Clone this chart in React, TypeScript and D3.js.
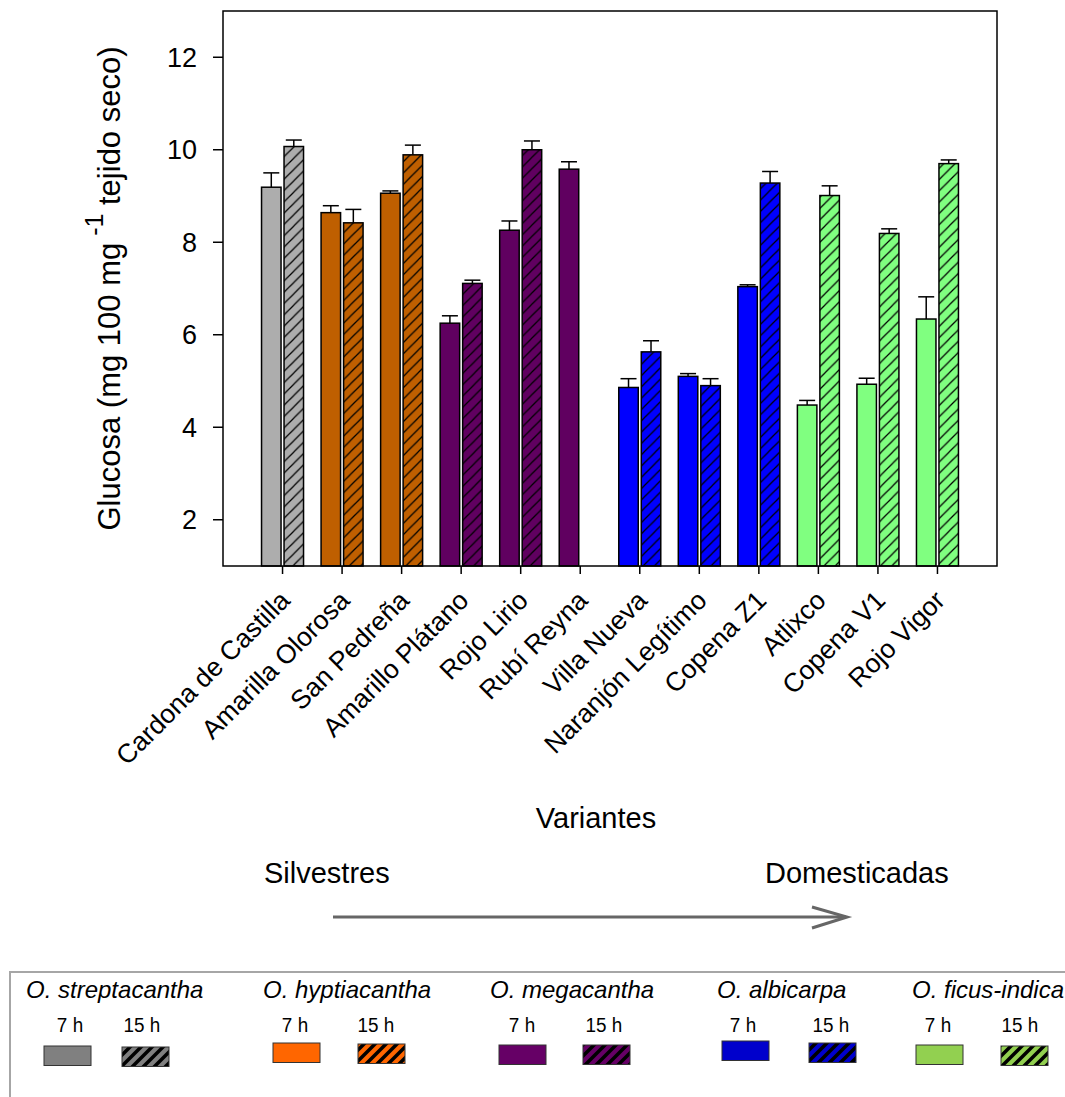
import React from "react";
import * as d3 from "d3";

const categories = [
  "Cardona de Castilla",
  "Amarilla Olorosa",
  "San Pedreña",
  "Amarillo Plátano",
  "Rojo Lirio",
  "Rubí Reyna",
  "Villa Nueva",
  "Naranjón Legítimo",
  "Copena Z1",
  "Atlixco",
  "Copena V1",
  "Rojo Vigor",
];
const speciesOfCategory = [0, 1, 1, 2, 2, 2, 3, 3, 3, 4, 4, 4];
const values7h = [9.19, 8.64, 9.06, 6.25, 8.26, 9.58, 4.86, 5.1, 7.04, 4.48, 4.93, 6.34];
const errors7h = [0.31, 0.15, 0.05, 0.16, 0.2, 0.16, 0.19, 0.06, 0.04, 0.1, 0.13, 0.48];
const values15h: (number | null)[] = [10.07, 8.42, 9.89, 7.11, 10.0, null, 5.63, 4.9, 9.28, 9.01, 8.19, 9.7];
const errors15h: (number | null)[] = [0.14, 0.29, 0.21, 0.07, 0.19, null, 0.24, 0.15, 0.25, 0.21, 0.1, 0.08];
const yTicks = [2, 4, 6, 8, 10, 12];

const speciesNames = [
  "O. streptacantha",
  "O. hyptiacantha",
  "O. megacantha",
  "O. albicarpa",
  "O. ficus-indica",
];
const barColors = ["#adadad", "#bf5f00", "#600060", "#0000ff", "#80ff80"];
const legendColors = ["#808080", "#ff6600", "#660066", "#0000cc", "#92d050"];

// legend layout
const legendTitleX = [26, 263, 490, 717, 912];
const legendSwatch7X = [44, 273, 499, 722, 916];
const legendSwatch7Y = [1046, 1043, 1045, 1041, 1045];
const legendSwatch15X = [122, 358, 583, 809, 1001];
const legendSwatch15Y = [1047, 1044, 1045, 1043, 1046];
const legendLabel7X = [70, 295, 522, 743, 938];
const legendLabel15X = [142, 376, 604, 831, 1020];

const FONT = "'Liberation Sans', Arial, sans-serif";

export default function App() {
  const left = 223;
  const right = 997;
  const top = 11;
  const bottom = 566;

  const x = d3
    .scaleLinear()
    .domain([-1, categories.length])
    .range([left, right]);
  const y = d3.scaleLinear().domain([1, 13]).range([bottom, top]);

  const barW = 19.5;
  const gap = 1.5;
  const capW = 16;

  return (
    <div style={{ position: "absolute", left: 0, top: 0 }}>
      <svg width={1065} height={1097} style={{ display: "block" }} fontFamily={FONT}>
        <defs>
          {barColors.map((c, i) => (
            <pattern
              key={"p" + i}
              id={"hatch" + i}
              patternUnits="userSpaceOnUse"
              width={11.3}
              height={11.3}
            >
              <rect width={11.3} height={11.3} fill={c} />
              <line x1={0} y1={11.3} x2={11.3} y2={0} stroke="#000" strokeWidth={1.2} />
              <line x1={-2} y1={2} x2={2} y2={-2} stroke="#000" strokeWidth={1.2} />
              <line x1={9.3} y1={13.3} x2={13.3} y2={9.3} stroke="#000" strokeWidth={1.2} />
            </pattern>
          ))}
          {legendColors.map((c, i) => (
            <pattern
              key={"lp" + i}
              id={"lhatch" + i}
              patternUnits="userSpaceOnUse"
              width={11}
              height={11}
            >
              <rect width={11} height={11} fill={c} />
              <line x1={0} y1={11} x2={11} y2={0} stroke="#000" strokeWidth={3.5} />
              <line x1={-3} y1={3} x2={3} y2={-3} stroke="#000" strokeWidth={3.5} />
              <line x1={8} y1={14} x2={14} y2={8} stroke="#000" strokeWidth={3.5} />
            </pattern>
          ))}
        </defs>

        {/* bars */}
        {categories.map((cat, i) => {
          const c = x(i);
          const s = speciesOfCategory[i];
          const v7 = values7h[i];
          const e7 = errors7h[i];
          const v15 = values15h[i];
          const e15 = errors15h[i];
          const x7 = c - gap - barW;
          const x15 = c + gap;
          return (
            <g key={cat}>
              <rect
                x={x7}
                y={y(v7)}
                width={barW}
                height={y(1) - y(v7)}
                fill={barColors[s]}
                stroke="#000"
                strokeWidth={1.5}
              />
              <line x1={x7 + barW / 2} x2={x7 + barW / 2} y1={y(v7)} y2={y(v7 + e7)} stroke="#000" strokeWidth={1.5} />
              <line
                x1={x7 + barW / 2 - capW / 2}
                x2={x7 + barW / 2 + capW / 2}
                y1={y(v7 + e7)}
                y2={y(v7 + e7)}
                stroke="#000"
                strokeWidth={1.5}
              />
              {v15 !== null && e15 !== null && (
                <g>
                  <rect
                    x={x15}
                    y={y(v15)}
                    width={barW}
                    height={y(1) - y(v15)}
                    fill={`url(#hatch${s})`}
                    stroke="#000"
                    strokeWidth={1.5}
                  />
                  <line x1={x15 + barW / 2} x2={x15 + barW / 2} y1={y(v15)} y2={y(v15 + e15)} stroke="#000" strokeWidth={1.5} />
                  <line
                    x1={x15 + barW / 2 - capW / 2}
                    x2={x15 + barW / 2 + capW / 2}
                    y1={y(v15 + e15)}
                    y2={y(v15 + e15)}
                    stroke="#000"
                    strokeWidth={1.5}
                  />
                </g>
              )}
            </g>
          );
        })}

        {/* frame */}
        <rect x={left} y={top} width={right - left} height={bottom - top} fill="none" stroke="#000" strokeWidth={1.5} />

        {/* y axis ticks */}
        {yTicks.map((t) => (
          <g key={t}>
            <line x1={left - 10} x2={left} y1={y(t)} y2={y(t)} stroke="#000" strokeWidth={1.5} />
            <text x={left - 26} y={y(t)} dy="0.36em" textAnchor="end" fontSize={27} fill="#000">
              {t}
            </text>
          </g>
        ))}

        {/* x axis ticks + labels */}
        {categories.map((cat, i) => (
          <g key={"t" + cat}>
            <line x1={x(i)} x2={x(i)} y1={bottom} y2={bottom + 8} stroke="#000" strokeWidth={1.5} />
            <text
              transform={`translate(${x(i) + 9},${602}) rotate(-45)`}
              textAnchor="end"
              fontSize={26.5}
              fill="#000"
            >
              {cat}
            </text>
          </g>
        ))}

        {/* y axis title */}
        <text
          transform={`translate(120,${(top + bottom) / 2}) rotate(-90)`}
          textAnchor="middle"
          fontSize={31}
          fill="#000"
        >
          Glucosa (mg 100 mg
          <tspan dy={-17} fontSize={25}> -1</tspan>
          <tspan dy={17}>  tejido seco)</tspan>
        </text>

        {/* x axis title */}
        <text x={596} y={828} textAnchor="middle" fontSize={29} fill="#000">
          Variantes
        </text>
        <text x={264} y={883} fontSize={29} fill="#000">
          Silvestres
        </text>
        <text x={765} y={883} fontSize={29} fill="#000">
          Domesticadas
        </text>

        {/* arrow */}
        <line x1={333} x2={846} y1={917} y2={917} stroke="#666" strokeWidth={3} />
        <polyline points="812,907 847,917 812,928" fill="none" stroke="#666" strokeWidth={3} />

        {/* legend */}
        <rect x={10} y={972} width={1070} height={150} fill="none" stroke="#a6a6a6" strokeWidth={2} />
        {speciesNames.map((name, i) => (
          <g key={name}>
            <text x={legendTitleX[i]} y={998} fontSize={24} fontStyle="italic" fill="#000">
              {name}
            </text>
            <text
              transform={`translate(${legendLabel7X[i]},1032) scale(0.9,1)`}
              textAnchor="middle"
              fontSize={21}
              fill="#000"
            >
              7 h
            </text>
            <text
              transform={`translate(${legendLabel15X[i]},1032) scale(0.9,1)`}
              textAnchor="middle"
              fontSize={21}
              fill="#000"
            >
              15 h
            </text>
            <rect
              x={legendSwatch7X[i]}
              y={legendSwatch7Y[i]}
              width={47}
              height={19.5}
              fill={legendColors[i]}
              stroke="#333"
              strokeWidth={1}
            />
            <rect
              x={legendSwatch15X[i]}
              y={legendSwatch15Y[i]}
              width={47}
              height={19.5}
              fill={`url(#lhatch${i})`}
              stroke="#333"
              strokeWidth={1}
            />
          </g>
        ))}
      </svg>
    </div>
  );
}
